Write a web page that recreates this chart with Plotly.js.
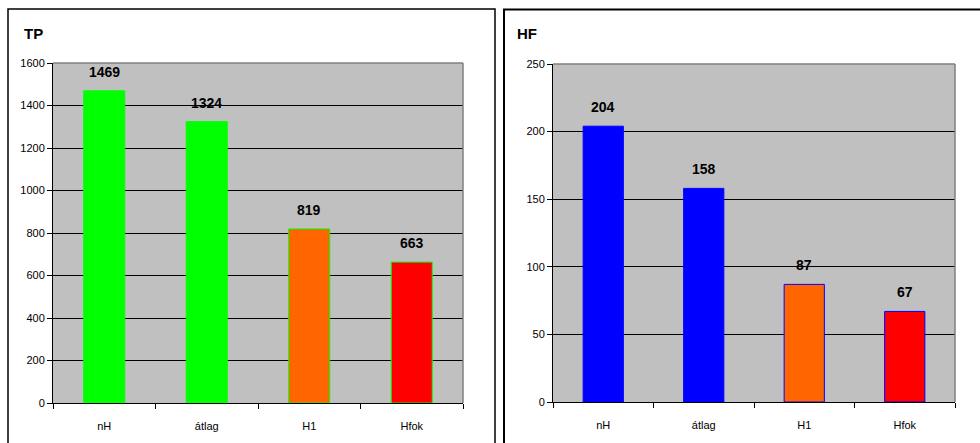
<!DOCTYPE html>
<html>
<head>
<meta charset="utf-8">
<script src="https://cdn.plot.ly/plotly-3.0.1.min.js"></script>
<style>html,body{margin:0;padding:0;background:#fff;}#chart{width:980px;height:443px;}</style>
</head>
<body>
<div id="chart"></div>
<script>
const categories = ["nH", "átlag", "H1", "Hfok"];
const tpValues = [1469, 1324, 819, 663];
const hfValues = [204, 158, 87, 67];
const tpColors = ["#00FF00", "#00FF00", "#FF6600", "#FF0000"];
const hfColors = ["#0000FF", "#0000FF", "#FF6600", "#FF0000"];
const tpTicks = [0, 200, 400, 600, 800, 1000, 1200, 1400, 1600];
const hfTicks = [0, 50, 100, 150, 200, 250];

const W = 980, H = 443;
const px = x => x / W;
const py = y => 1 - y / H;

const narrow = "'Liberation Sans Narrow', 'Arial Narrow', Arial, sans-serif";
const tickFont = {family: narrow, size: 11, color: "#000"};
const labelFont = {family: narrow, size: 14, color: "#000", weight: "bold"};

const traces = [
  {type: "bar", x: categories, y: tpValues, xaxis: "x", yaxis: "y",
   marker: {color: tpColors, line: {color: "#00FF00", width: 1}}, hoverinfo: "x+y"},
  {type: "bar", x: categories, y: hfValues, xaxis: "x2", yaxis: "y2",
   marker: {color: hfColors, line: {color: "#0000FF", width: 1}}, hoverinfo: "x+y"}
];

const annotations = [];
categories.forEach((c, i) => {
  annotations.push({x: c, y: tpValues[i], xref: "x", yref: "y", text: "<b>" + tpValues[i] + "</b>",
    showarrow: false, yanchor: "bottom", yshift: 9, font: labelFont});
  annotations.push({x: c, y: hfValues[i], xref: "x2", yref: "y2", text: "<b>" + hfValues[i] + "</b>",
    showarrow: false, yanchor: "bottom", yshift: 9, font: labelFont});
});
annotations.push({x: px(22), y: py(33), xref: "paper", yref: "paper", xanchor: "left", yanchor: "middle",
  text: "<b>TP</b>", showarrow: false, font: {family: narrow, size: 15, color: "#000"}});
annotations.push({x: px(515), y: py(33), xref: "paper", yref: "paper", xanchor: "left", yanchor: "middle",
  text: "<b>HF</b>", showarrow: false, font: {family: narrow, size: 15, color: "#000"}});

const shapes = [
  // panel frames
  {type: "rect", xref: "paper", yref: "paper", x0: px(8), x1: px(495), y0: py(450), y1: py(9),
   line: {color: "#000", width: 1.5}, fillcolor: "rgba(0,0,0,0)", layer: "below"},
  {type: "rect", xref: "paper", yref: "paper", x0: px(504), x1: px(990), y0: py(450), y1: py(9.5),
   line: {color: "#000", width: 2}, fillcolor: "rgba(0,0,0,0)", layer: "below"},
  // plot area top/right gray edges
  {type: "line", xref: "x domain", yref: "y domain", x0: 0, x1: 1, y0: 1, y1: 1, line: {color: "#808080", width: 1.5}},
  {type: "line", xref: "x domain", yref: "y domain", x0: 1, x1: 1, y0: 0, y1: 1, line: {color: "#808080", width: 1.5}},
  {type: "line", xref: "x2 domain", yref: "y2 domain", x0: 0, x1: 1, y0: 1, y1: 1, line: {color: "#808080", width: 1.5}},
  {type: "line", xref: "x2 domain", yref: "y2 domain", x0: 1, x1: 1, y0: 0, y1: 1, line: {color: "#808080", width: 1.5}}
];

const xCommon = {
  type: "category", showgrid: false, zeroline: false, showline: true, linecolor: "#000", linewidth: 1,
  ticks: "outside", tickson: "boundaries", ticklen: 5, tickcolor: "#000", tickfont: tickFont,
  ticklabelstandoff: 13, fixedrange: true
};
const yCommon = {
  showgrid: true, gridcolor: "#000", gridwidth: 1, zeroline: false, showline: true, linecolor: "#000",
  linewidth: 1, ticks: "outside", ticklen: 5, tickcolor: "#000", tickfont: tickFont, fixedrange: true
};

const layout = {
  width: W, height: H, margin: {l: 0, r: 0, t: 0, b: 0},
  paper_bgcolor: "#fff", plot_bgcolor: "#C0C0C0", showlegend: false, bargap: 0.6,
  xaxis: Object.assign({}, xCommon, {domain: [px(53), px(463)], anchor: "y"}),
  yaxis: Object.assign({}, yCommon, {domain: [py(403), py(63)], anchor: "x", range: [0, 1600],
    tickvals: tpTicks, ticktext: tpTicks.map(String)}),
  xaxis2: Object.assign({}, xCommon, {domain: [px(553), px(955)], anchor: "y2"}),
  yaxis2: Object.assign({}, yCommon, {domain: [py(402), py(64)], anchor: "x2", range: [0, 250],
    tickvals: hfTicks, ticktext: hfTicks.map(String)}),
  annotations: annotations, shapes: shapes
};

Plotly.newPlot("chart", traces, layout, {displayModeBar: false, staticPlot: true});
</script>
</body>
</html>
